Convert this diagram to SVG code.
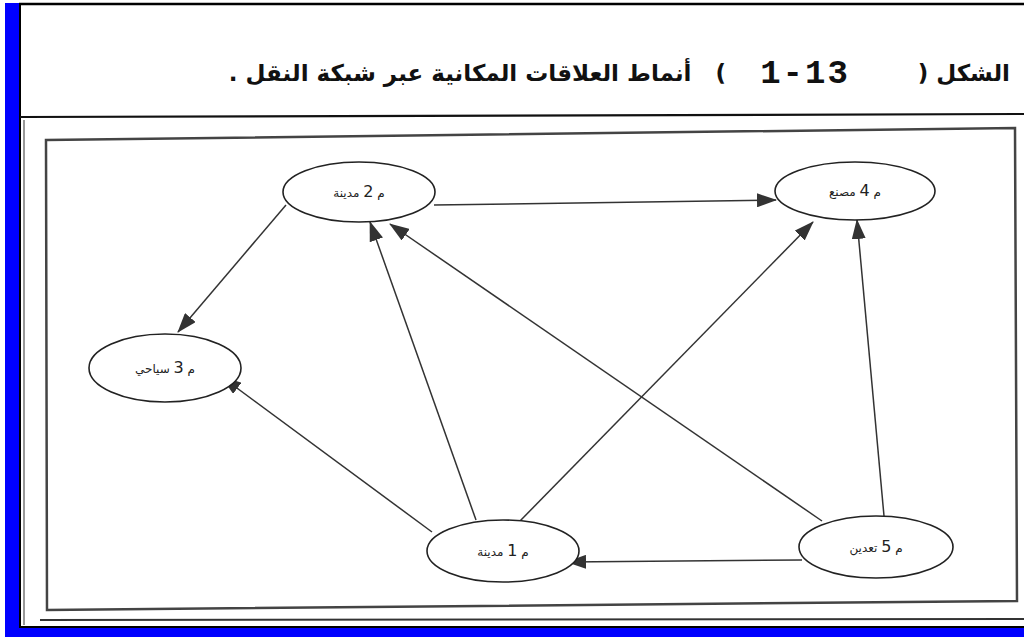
<svg xmlns="http://www.w3.org/2000/svg" width="1024" height="637" viewBox="0 0 1024 637">
<defs>
<marker id="arr" markerUnits="userSpaceOnUse" markerWidth="20" markerHeight="14" viewBox="0 0 20 14" refX="19" refY="7" orient="auto">
<path d="M0,0 L20,7 L0,14 z" fill="#333"/>
</marker>
<style>
.node ellipse{fill:#fff;stroke:#222;stroke-width:1.6}
.node text{font-family:"DejaVu Sans",sans-serif;font-size:12px;fill:#222;text-anchor:middle;direction:rtl}
.node .d{font-size:16px}
.edges line{stroke:#333;stroke-width:1.5;marker-end:url(#arr)}
.title{font-family:"DejaVu Sans",sans-serif;font-weight:bold;font-size:23px;fill:#111;direction:rtl;text-anchor:start}
.num{font-family:"Liberation Mono",monospace;font-weight:bold;font-size:34px;fill:#111;text-anchor:middle;letter-spacing:2px}
</style>
</defs>
<rect width="1024" height="637" fill="#fff"/>
<rect x="5" y="3" width="14" height="634" fill="#0000ff"/>
<rect x="5" y="628" width="1019" height="9" fill="#0000ff"/>
<line x1="19" y1="4" x2="1024" y2="4" stroke="#000" stroke-width="2.5"/>
<line x1="20" y1="4" x2="20" y2="628" stroke="#000" stroke-width="2"/>
<line x1="20" y1="627" x2="1024" y2="627" stroke="#000" stroke-width="2"/>
<line x1="24" y1="120" x2="24" y2="625" stroke="#999" stroke-width="2"/>
<line x1="20" y1="117" x2="1024" y2="114" stroke="#111" stroke-width="2.2"/>
<line x1="40" y1="620" x2="1024" y2="619" stroke="#333" stroke-width="2"/>
<polygon points="46,140 1015,128 1017,601 47,610" fill="none" stroke="#444" stroke-width="2.5"/>
<g id="title">
<text class="title" x="1010" y="81" xml:space="preserve">الشكل (</text>
<text class="num" x="805" y="83">1-13</text>
<text class="title" x="726" y="81" xml:space="preserve">)   أنماط العلاقات المكانية عبر شبكة النقل .</text>
</g>
<g class="edges">
<line x1="434" y1="205" x2="776" y2="200"/>
<line x1="286" y1="205" x2="178" y2="332"/>
<line x1="476" y1="520" x2="370" y2="222"/>
<line x1="432" y1="532" x2="222" y2="377"/>
<line x1="520" y1="521" x2="813" y2="222"/>
<line x1="822" y1="521" x2="390" y2="224"/>
<line x1="884" y1="516" x2="857" y2="220"/>
<line x1="802" y1="560" x2="567" y2="562"/>
</g>
<g id="m2" class="node"><ellipse cx="359" cy="192" rx="76" ry="30"/><text x="359" y="197">م <tspan class="d">2</tspan> مدينة</text></g>
<g id="m4" class="node"><ellipse cx="855" cy="191" rx="80" ry="29"/><text x="855" y="196">م <tspan class="d">4</tspan> مصنع</text></g>
<g id="m3" class="node"><ellipse cx="165" cy="368" rx="76" ry="34"/><text x="165" y="373">م <tspan class="d">3</tspan> سياحي</text></g>
<g id="m1" class="node"><ellipse cx="503" cy="551" rx="76" ry="31"/><text x="503" y="556">م <tspan class="d">1</tspan> مدينة</text></g>
<g id="m5" class="node"><ellipse cx="876" cy="547" rx="77" ry="31"/><text x="876" y="552">م <tspan class="d">5</tspan> تعدين</text></g>
</svg>
